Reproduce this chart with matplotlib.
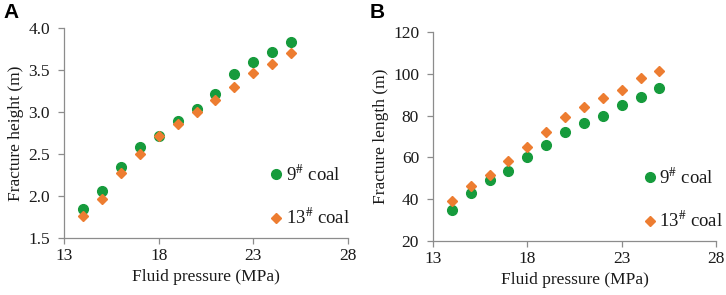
import matplotlib
matplotlib.use("Agg")
import matplotlib.pyplot as plt

plt.rcParams['font.family'] = 'Liberation Serif'
plt.rcParams['mathtext.fontset'] = 'stix'

pressure = [14, 15, 16, 17, 18, 19, 20, 21, 22, 23, 24, 25]

# panel A: fracture height (m)
height_9 = [1.85, 2.06, 2.35, 2.58, 2.72, 2.89, 3.04, 3.22, 3.45, 3.59, 3.72, 3.83]
height_13 = [1.76, 1.96, 2.27, 2.50, 2.71, 2.86, 3.00, 3.14, 3.30, 3.46, 3.57, 3.70]

# panel B: fracture length (m)
length_9 = [35.0, 43.0, 49.4, 53.3, 60.2, 65.9, 72.2, 76.6, 79.7, 85.1, 89.0, 93.1]
length_13 = [38.9, 46.2, 51.4, 58.2, 65.0, 72.0, 79.2, 84.2, 88.5, 92.3, 98.1, 101.3]

x_ticks = [13, 18, 23, 28]
green = '#169b3c'
orange = '#ed7d31'
spine_col = '#8c8c8c'
txt = '#1a1a1a'

fig = plt.figure(figsize=(7.26, 2.95), dpi=100)
W, H = 726, 295
axA = fig.add_axes([64 / W, 1 - 238 / H, 284 / W, 210 / H])
axB = fig.add_axes([433 / W, 1 - 241 / H, 283 / W, 209 / H])


def style(ax, ylim, yticks, ylabel, leg_x):
    ax.set_xlim(13, 28)
    ax.set_ylim(*ylim)
    ax.set_xticks(x_ticks)
    ax.set_yticks(yticks)
    for s in ['top', 'right']:
        ax.spines[s].set_visible(False)
    for s in ['left', 'bottom']:
        ax.spines[s].set_color(spine_col)
        ax.spines[s].set_linewidth(0.9)
    ax.tick_params(colors=spine_col, labelcolor=txt, labelsize=12.5,
                   length=4, width=0.9, direction='out')
    ax.tick_params(axis='y', pad=6)
    ax.set_xlabel('Fluid pressure (MPa)', fontsize=12.5, color=txt, labelpad=3)
    ax.set_ylabel(ylabel, fontsize=12.5, color=txt, labelpad=3)
    leg = ax.legend(loc='lower right', bbox_to_anchor=(leg_x, -0.035), frameon=False,
                    fontsize=13.5, labelspacing=1.25, handletextpad=0.1,
                    handlelength=0.8)
    for t in leg.get_texts():
        t.set_color(txt)


axA.plot(pressure, height_9, 'o', color=green, markersize=7, label='9$^{\\#}$ coal')
axA.plot(pressure, height_13, 'D', color=orange, markersize=5.5, label='13$^{\\#}$ coal')
style(axA, (1.5, 4.0), [1.5, 2.0, 2.5, 3.0, 3.5, 4.0], 'Fracture height (m)', 1.065)
axA.yaxis.set_major_formatter(matplotlib.ticker.FormatStrFormatter('%.1f'))

axB.plot(pressure, length_9, 'o', color=green, markersize=7, label='9$^{\\#}$ coal')
axB.plot(pressure, length_13, 'D', color=orange, markersize=5.5, label='13$^{\\#}$ coal')
style(axB, (20, 120), [20, 40, 60, 80, 100, 120], 'Fracture length (m)', 1.085)

fig.text(3 / W, 1 - 3 / H, 'A', fontsize=15, fontweight='bold', family='Liberation Sans', va='top')
fig.text(370 / W, 1 - 3 / H, 'B', fontsize=15, fontweight='bold', family='Liberation Sans', va='top')

fig.savefig('out.png', dpi=100)
